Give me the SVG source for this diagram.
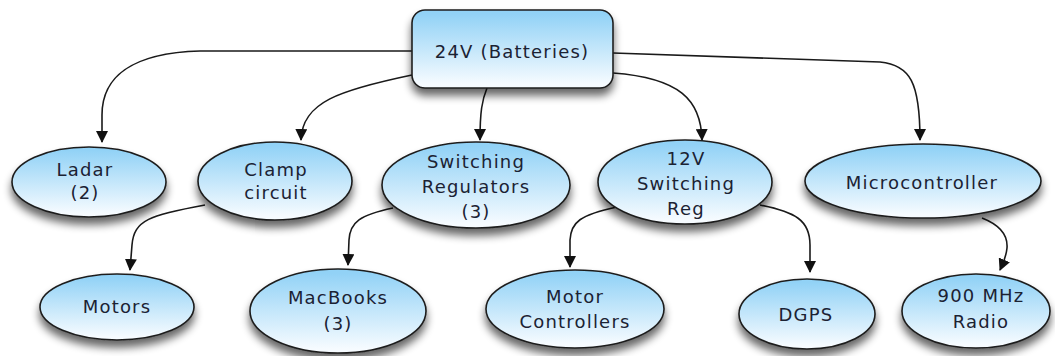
<svg xmlns="http://www.w3.org/2000/svg" width="1055" height="356" viewBox="0 0 1055 356">
<defs>
<linearGradient id="g" x1="0" y1="0" x2="0" y2="1">
<stop offset="0.05" stop-color="#92d2f6"/>
<stop offset="0.95" stop-color="#f6fbff"/>
</linearGradient>
<filter id="sh" x="-20%" y="-20%" width="140%" height="170%">
<feGaussianBlur in="SourceAlpha" stdDeviation="4"/>
<feOffset dx="0" dy="7" result="b"/>
<feComponentTransfer><feFuncA type="linear" slope="0.6"/></feComponentTransfer>
<feMerge><feMergeNode/><feMergeNode in="SourceGraphic"/></feMerge>
</filter>
<marker id="ah" viewBox="0 0 12 12" refX="11" refY="6" markerWidth="12" markerHeight="12" markerUnits="userSpaceOnUse" orient="auto">
<path d="M0,0 L12,6 L0,12 Z" fill="#111"/>
</marker>
</defs>
<style>
.n{fill:url(#g);stroke:#1e1e1e;stroke-width:1.6;filter:url(#sh)}
.t{font-family:"DejaVu Sans",sans-serif;font-size:18px;fill:#1b2233;text-anchor:middle;letter-spacing:1.2px}
.c{fill:none;stroke:#1a1a1a;stroke-width:1.6;marker-end:url(#ah)}
</style>
<rect width="1055" height="356" fill="#ffffff"/>
<g id="connectors">
<path class="c" d="M412,51 L200,51 C130,53 102,78 102,115 L102,142"/>
<path class="c" d="M412,75 C340,90 302,102 301,140"/>
<path class="c" d="M487,88 C482,100 480,112 480,140"/>
<path class="c" d="M613,73 C680,78 701,100 702,140"/>
<path class="c" d="M613,53 L880,62 C910,65 920,82 920,140"/>
<path class="c" d="M205,205 C150,215 134,220 132,245 L130,270"/>
<path class="c" d="M393,208 C360,215 350,222 349,240 L348,265"/>
<path class="c" d="M617,207 C580,215 571,222 570,240 L570,267"/>
<path class="c" d="M760,205 C795,212 810,220 810,245 L810,272"/>
<path class="c" d="M982,218 C1000,225 1008,235 1007,248 C1006,258 1003,263 1000,270"/>
</g>
<g id="root">
<rect class="n" x="412" y="10" width="201" height="78" rx="13"/>
<text class="t" x="512" y="58">24V (Batteries)</text>
</g>
<g id="ladar">
<ellipse class="n" cx="89" cy="182" rx="77" ry="35"/>
<text class="t" x="85" y="176">Ladar</text>
<text class="t" x="85" y="199">(2)</text>
</g>
<g id="clamp">
<ellipse class="n" cx="275" cy="181" rx="77" ry="39"/>
<text class="t" x="276" y="176">Clamp</text>
<text class="t" x="276" y="199">circuit</text>
</g>
<g id="switching">
<ellipse class="n" cx="476" cy="185" rx="94" ry="43"/>
<text class="t" x="476" y="168">Switching</text>
<text class="t" x="476" y="193">Regulators</text>
<text class="t" x="476" y="218">(3)</text>
</g>
<g id="reg12">
<ellipse class="n" cx="685" cy="182" rx="87" ry="42"/>
<text class="t" x="686" y="165">12V</text>
<text class="t" x="686" y="190">Switching</text>
<text class="t" x="686" y="215">Reg</text>
</g>
<g id="micro">
<ellipse class="n" cx="923" cy="181" rx="118" ry="37"/>
<text class="t" x="922" y="189">Microcontroller</text>
</g>
<g id="motors">
<ellipse class="n" cx="117" cy="307" rx="77" ry="33"/>
<text class="t" x="117" y="313">Motors</text>
</g>
<g id="macbooks">
<ellipse class="n" cx="338" cy="311" rx="88" ry="42"/>
<text class="t" x="338" y="304">MacBooks</text>
<text class="t" x="338" y="330">(3)</text>
</g>
<g id="motorcontrollers">
<ellipse class="n" cx="575" cy="309" rx="89" ry="39"/>
<text class="t" x="575" y="303">Motor</text>
<text class="t" x="575" y="328">Controllers</text>
</g>
<g id="dgps">
<ellipse class="n" cx="807" cy="314" rx="68" ry="35"/>
<text class="t" x="806" y="321">DGPS</text>
</g>
<g id="radio">
<ellipse class="n" cx="976" cy="311" rx="74" ry="37"/>
<text class="t" x="981" y="302">900 MHz</text>
<text class="t" x="981" y="328">Radio</text>
</g>
</svg>
